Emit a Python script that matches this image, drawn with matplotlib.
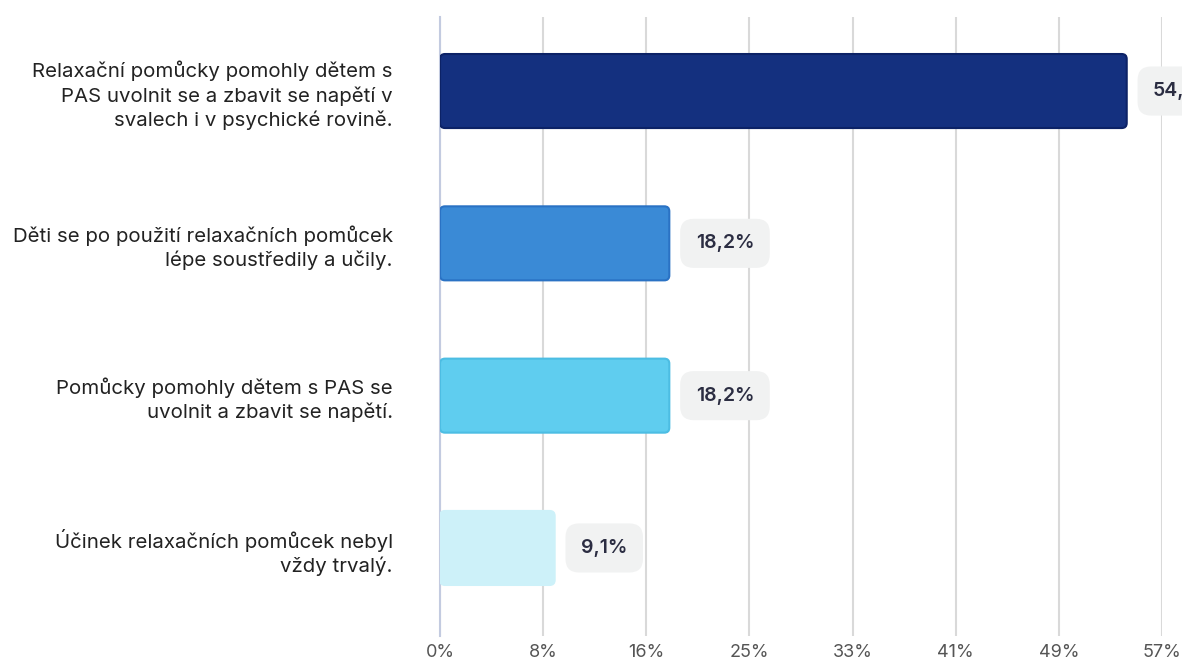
import matplotlib.pyplot as plt
from matplotlib.patches import FancyBboxPatch

# data
categories = [
    "Relaxační pomůcky pomohly dětem s\nPAS uvolnit se a zbavit se napětí v\nsvalech i v psychické rovině.",
    "Děti se po použití relaxačních pomůcek\nlépe soustředily a učily.",
    "Pomůcky pomohly dětem s PAS se\nuvolnit a zbavit se napětí.",
    "Účinek relaxačních pomůcek nebyl\nvždy trvalý.",
]
values = [54.5, 18.2, 18.2, 9.1]
value_labels = ["54,5%", "18,2%", "18,2%", "9,1%"]
tick_values = [0, 8.19, 16.37, 24.56, 32.74, 40.93, 49.11, 57.3]
tick_labels = ["0%", "8%", "16%", "25%", "33%", "41%", "49%", "57%"]

face_colors = ["#14307f", "#3a8ad6", "#5fcdef", "#cdf1f9"]
edge_colors = ["#0c2266", "#2a72c4", "#4cbde3", "#cdf1f9"]

plt.rcParams['font.family'] = ['Inter', 'DejaVu Sans']

fig = plt.figure(figsize=(11.82, 6.59), dpi=100)
ax = fig.add_axes([440 / 1182, 23 / 659, 722 / 1182, 619 / 659])

y = list(range(len(categories)))
bars = ax.barh(y, values, height=0.486, color=face_colors)

ax.set_xlim(0, 57.3)
ax.set_ylim(3.578, -0.486)

# скругленные столбцы
x_per_px = 57.3 / 722
y_per_px = (3.578 + 0.486) / 619
for b, fc, ec in zip(bars, face_colors, edge_colors):
    b.set_visible(False)
    p = FancyBboxPatch((b.get_x(), b.get_y()), b.get_width(), b.get_height(),
                       boxstyle="round,pad=0,rounding_size=%f" % (5 * x_per_px),
                       mutation_aspect=y_per_px / x_per_px,
                       facecolor=fc, edgecolor=ec, linewidth=1.5, zorder=3)
    ax.add_patch(p)

# подписи значений
for yi, v, lab in zip(y, values, value_labels):
    ax.annotate(lab, xy=(v, yi), xytext=(19, 0), textcoords='offset points',
                ha='left', va='center', fontsize=14, fontweight='semibold',
                color='#2b2d42', annotation_clip=False,
                bbox=dict(boxstyle='round,pad=0.8,rounding_size=0.7',
                          facecolor='#f1f2f2', edgecolor='none'))

ax.set_yticks(y)
ax.set_yticklabels(categories, fontsize=14.7, color='#222222', linespacing=1.3)
ax.set_xticks(tick_values)
ax.set_xticklabels(tick_labels, fontsize=13, color='#555555')
ax.tick_params(axis='y', length=0, pad=34)
ax.tick_params(axis='x', length=0, pad=6)

ax.grid(axis='x', color='#d9d9d9', linewidth=1.5, zorder=0)
ax.set_axisbelow(True)
for s in ['top', 'right', 'bottom']:
    ax.spines[s].set_visible(False)
ax.spines['left'].set_color('#c3cbe0')
ax.spines['left'].set_linewidth(1.5)

plt.savefig('out.png', dpi=100)
